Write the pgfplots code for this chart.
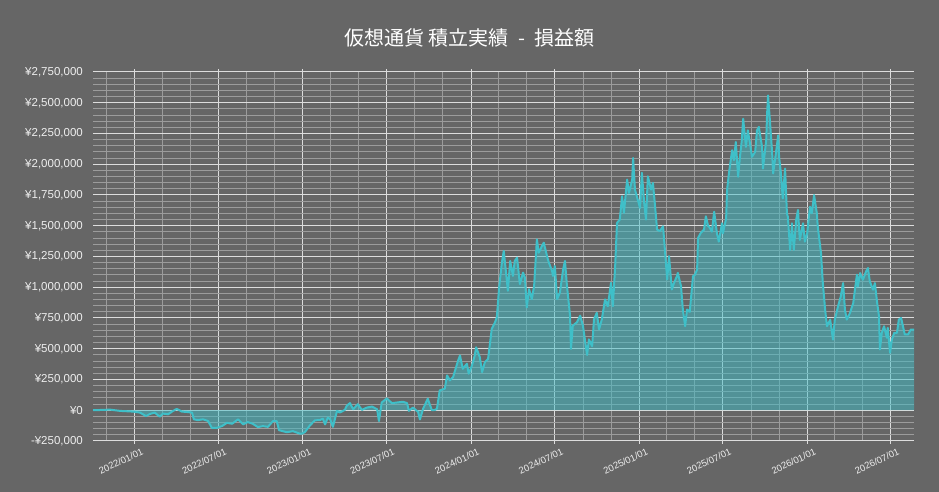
\documentclass[border=0pt]{standalone}
\usepackage{pgfplots}
\pgfplotsset{compat=1.18}
\usepackage{pgfplotstable}
\usepackage{fontspec}
\setmainfont{Liberation Sans}
\newfontfamily\cjk{Noto Sans CJK JP}
\definecolor{bg}{HTML}{666666}
\definecolor{linec}{HTML}{3FBFC8}
\definecolor{majorc}{HTML}{DDDDDD}
\definecolor{minorc}{HTML}{9C9C9C}
\definecolor{labc}{HTML}{EEEEEE}

% d = days since 2022/01/01, v = profit/loss in yen
\pgfplotstableread{
d v
-91 0
-54 5000
-33 -5000
-4 -11000
11 -19000
24 -47000
33 -30000
43 -19000
54 -52000
61 -27000
72 -33000
83 -5000
91 11000
102 -11000
113 -14000
124 -19000
128 -74000
137 -80000
148 -74000
159 -88000
167 -143000
178 -143000
189 -129000
200 -102000
211 -110000
224 -74000
235 -115000
245 -96000
256 -110000
267 -137000
278 -129000
289 -135000
300 -88000
308 -88000
313 -162000
330 -179000
343 -170000
358 -190000
363 -190000
369 -178000
380 -124000
391 -82000
402 -80000
408 -69000
413 -115000
419 -60000
424 -74000
430 -135000
439 -5000
445 -19000
456 3000
460 36000
467 58000
474 8000
484 49000
493 3000
504 22000
515 30000
526 8000
530 -88000
536 63000
547 96000
558 58000
569 63000
582 69000
591 58000
595 -5000
604 22000
615 -14000
619 -75000
626 13000
636 94000
645 0
652 3000
656 13000
662 162000
673 175000
678 283000
684 243000
691 270000
702 405000
706 445000
712 337000
721 378000
725 297000
732 364000
738 445000
741 512000
749 432000
754 310000
760 391000
767 418000
771 539000
775 661000
782 715000
786 755000
791 998000
797 1200000
801 1295000
806 1119000
810 971000
815 1214000
821 1092000
825 1214000
830 1241000
836 1025000
843 1119000
847 1079000
851 836000
856 984000
862 903000
867 1011000
873 1389000
877 1281000
884 1335000
888 1362000
895 1254000
899 1200000
906 1133000
908 1092000
912 1173000
917 903000
923 957000
930 1146000
934 1214000
938 1025000
945 769000
947 499000
951 688000
960 715000
967 769000
973 688000
982 450000
986 576000
993 521000
997 738000
1003 792000
1008 657000
1014 738000
1021 901000
1027 846000
1034 1036000
1038 846000
1043 1171000
1047 1523000
1053 1550000
1058 1740000
1062 1605000
1069 1875000
1073 1767000
1080 1875000
1082 2051000
1086 1794000
1090 1740000
1097 1645000
1101 1930000
1106 1686000
1110 1550000
1114 1902000
1121 1794000
1125 1848000
1129 1686000
1134 1469000
1140 1456000
1147 1496000
1151 1307000
1156 1063000
1160 1253000
1166 982000
1171 1036000
1177 1090000
1179 1117000
1186 1009000
1190 819000
1195 684000
1199 819000
1205 800000
1212 1090000
1216 1100000
1221 1144000
1223 1400000
1229 1442000
1236 1469000
1240 1577000
1245 1496000
1247 1493000
1253 1452000
1258 1614000
1264 1439000
1268 1371000
1275 1520000
1277 1439000
1284 1560000
1286 1790000
1290 1925000
1297 2114000
1301 2033000
1305 2181000
1310 1898000
1314 2060000
1318 2195000
1321 2370000
1327 2141000
1331 2276000
1336 2168000
1340 2060000
1347 2100000
1351 2276000
1355 2303000
1362 2141000
1364 1965000
1371 2195000
1373 2411000
1375 2559000
1379 2357000
1384 2087000
1386 1925000
1392 2087000
1397 2235000
1399 2060000
1403 1925000
1407 1722000
1412 1965000
1416 1601000
1418 1574000
1423 1304000
1427 1520000
1431 1304000
1436 1547000
1440 1628000
1444 1385000
1451 1520000
1455 1371000
1460 1439000
1466 1655000
1470 1601000
1475 1749000
1481 1601000
1483 1493000
1490 1277000
1494 1034000
1499 818000
1503 683000
1510 737000
1516 575000
1520 737000
1527 845000
1533 926000
1538 1034000
1542 818000
1546 737000
1553 791000
1560 872000
1568 1102000
1570 1007000
1575 1115000
1581 1061000
1588 1129000
1592 1156000
1596 1048000
1603 980000
1607 1034000
1612 872000
1616 764000
1618 494000
1622 629000
1627 683000
1633 589000
1635 670000
1640 467000
1644 575000
1649 629000
1655 629000
1659 737000
1664 750000
1668 683000
1672 616000
1679 616000
1685 656000
1692 656000
}\data

\begin{document}
\begin{tikzpicture}
\fill[bg] (0pt,0pt) rectangle (939pt,492pt);
\node[font=\cjk\fontsize{20}{20}\selectfont, text=white] at (469.5pt,454.5pt)
  {仮想通貨\hspace{4pt}積立実績\hspace{10pt}-\hspace{10pt}損益額};
\begin{axis}[
  at={(93pt,51pt)}, anchor=south west,
  scale only axis, width=821pt, height=369pt,
  xmin=-91, xmax=1692, ymin=-250000, ymax=2750000,
  axis line style={draw=none},
  grid=both,
  major grid style={majorc, line width=1pt},
  minor grid style={minorc, line width=1pt},
  xtick={0,181,365,546,730,912,1096,1277,1461,1642},
  xticklabels={2022/01/01,2022/07/01,2023/01/01,2023/07/01,2024/01/01,2024/07/01,2025/01/01,2025/07/01,2026/01/01,2026/07/01},
  minor xtick={-61,59,120,243,304,424,485,608,669,790,851,974,1035,1155,1216,1339,1400,1520,1581},
  ytick={-250000,0,250000,500000,750000,1000000,1250000,1500000,1750000,2000000,2250000,2500000,2750000},
  yticklabels={{-¥250,000},{¥0},{¥250,000},{¥500,000},{¥750,000},{¥1,000,000},{¥1,250,000},{¥1,500,000},{¥1,750,000},{¥2,000,000},{¥2,250,000},{¥2,500,000},{¥2,750,000}},
  minor y tick num=4,
  scaled y ticks=false,
  tick align=outside,
  major tick length=3pt, minor tick length=0pt,
  xtick style={majorc, line width=1pt},
  ytick style={draw=none},
  yticklabel style={font=\fontsize{11.5}{11.5}\selectfont, text=labc, inner sep=0pt, xshift=-7pt},
  xticklabel style={font=\fontsize{9.5}{9.5}\selectfont, text=labc, rotate=25, anchor=north east, inner sep=0pt, xshift=4pt, yshift=-6pt},
]
\addplot[draw=none, fill=linec, fill opacity=0.5] table[x=d,y=v]{\data} \closedcycle;
\addplot[linec, line width=2pt, line join=round] table[x=d,y=v]{\data};
\end{axis}
\end{tikzpicture}
\end{document}
